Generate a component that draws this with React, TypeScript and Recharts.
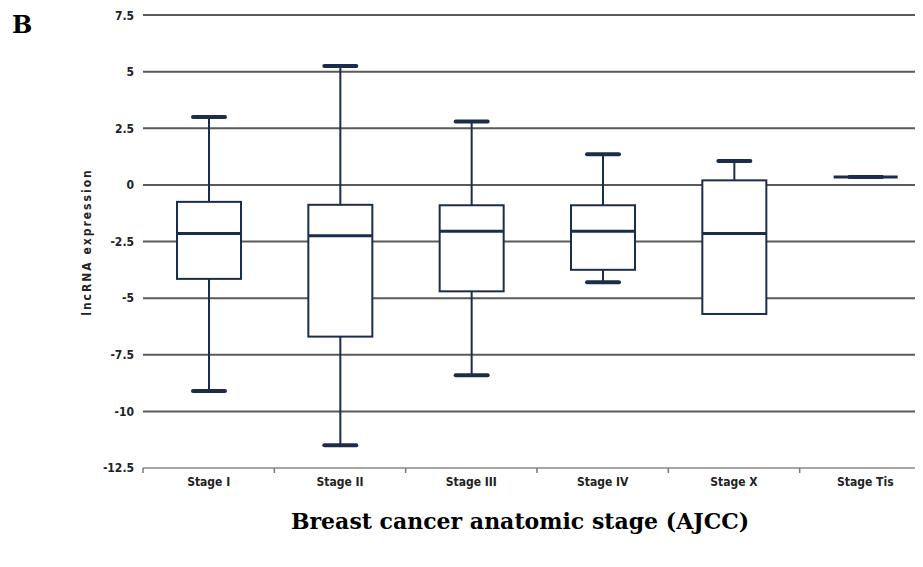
import { ComposedChart, Bar, XAxis, YAxis, CartesianGrid } from "recharts"

const stages = ["Stage I", "Stage II", "Stage III", "Stage IV", "Stage X", "Stage Tis"]
const whiskerLow = [-9.1, -11.5, -8.4, -4.3, -5.7, 0.35]
const quartile1 = [-4.15, -6.7, -4.7, -3.75, -5.7, 0.35]
const medians = [-2.15, -2.25, -2.05, -2.05, -2.15, 0.35]
const quartile3 = [-0.75, -0.88, -0.9, -0.9, 0.2, 0.35]
const whiskerHigh = [3.0, 5.25, 2.8, 1.35, 1.05, 0.35]
const yTicks = [-12.5, -10, -7.5, -5, -2.5, 0, 2.5, 5, 7.5]

const data = stages.map((stage, i) => ({
  stage,
  low: whiskerLow[i],
  q1: quartile1[i],
  median: medians[i],
  q3: quartile3[i],
  high: whiskerHigh[i],
}))

const NAVY = "#1b2d4a"
const tickFont = "'DejaVu Sans Condensed', 'DejaVu Sans', sans-serif"

function BoxShape(props: any) {
  const { x, y, width, height, payload } = props
  const top = Math.min(y, y + height)
  const bottom = Math.max(y, y + height)
  const span = payload.high - payload.low
  // linear map inside the bar that runs from low (bottom) to high (top)
  const py = (v: number) => (span === 0 ? top : top + ((payload.high - v) / span) * (bottom - top))
  const cx = x + width / 2
  const capW = width / 2
  const yq3 = py(payload.q3)
  const yq1 = py(payload.q1)
  const ymed = py(payload.median)
  const yhi = py(payload.high)
  const ylo = py(payload.low)
  const showLow = payload.low !== payload.q1 || span === 0
  return (
    <g>
      <line x1={cx} x2={cx} y1={yhi} y2={yq3} stroke={NAVY} strokeWidth={2} />
      {showLow && <line x1={cx} x2={cx} y1={yq1} y2={ylo} stroke={NAVY} strokeWidth={2} />}
      <rect x={x} y={yq3} width={width} height={Math.max(0, yq1 - yq3)} fill="#fff" stroke={NAVY} strokeWidth={2} />
      <line x1={x} x2={x + width} y1={ymed} y2={ymed} stroke={NAVY} strokeWidth={3} />
      <line x1={cx - capW / 2} x2={cx + capW / 2} y1={yhi} y2={yhi} stroke={NAVY} strokeWidth={4} strokeLinecap="round" />
      {showLow && (
        <line x1={cx - capW / 2} x2={cx + capW / 2} y1={ylo} y2={ylo} stroke={NAVY} strokeWidth={4} strokeLinecap="round" />
      )}
    </g>
  )
}

function StageTick(props: any) {
  const { x, y, payload } = props
  const half = payload && payload.offset ? payload.offset : 65.6
  return (
    <g>
      <line x1={x - half} x2={x - half} y1={y} y2={y + 5} stroke="#777" strokeWidth={1.5} />
      <text x={x} y={y + 18} textAnchor="middle" fontFamily={tickFont} fontWeight="bold" fontSize={12} fill="#222">
        {payload.value}
      </text>
    </g>
  )
}

export default function App() {
  return (
    <div style={{ position: "relative", width: 915, height: 559, overflow: "hidden" }}>
      <ComposedChart width={923} height={559} data={data} margin={{ top: 7, right: 0, bottom: 69, left: 0 }}>
        <CartesianGrid
          vertical={false}
          horizontalValues={[-10, -7.5, -5, -2.5, 0, 2.5, 5, 7.5]}
          stroke="#5a5a5a"
          strokeWidth={2}
        />
        <XAxis
          dataKey="stage"
          height={30}
          tickLine={false}
          tickSize={0}
          tickMargin={0}
          axisLine={{ stroke: "#888", strokeWidth: 1.5 }}
          tick={<StageTick />}
          interval={0}
        />
        <YAxis
          type="number"
          domain={[-12.5, 7.5]}
          ticks={yTicks}
          width={135}
          axisLine={false}
          tickLine={false}
          tickSize={0}
          tickMargin={9}
          tick={{ fontFamily: tickFont, fontWeight: "bold", fontSize: 12, fill: "#222" }}
        />
        <Bar
          dataKey={(d: any) => [d.low, d.high]}
          barSize={64}
          shape={BoxShape}
          isAnimationActive={false}
        />
      </ComposedChart>
      <div
        style={{
          position: "absolute",
          left: 4,
          top: 5,
          fontFamily: "'DejaVu Serif', serif",
          fontWeight: "bold",
          fontSize: 24,
          lineHeight: 1,
        }}
      >
        B
      </div>
      <div
        style={{
          position: "absolute",
          left: 79,
          top: 234,
          transform: "translate(-50%, -50%) rotate(-90deg)",
          whiteSpace: "nowrap",
          fontFamily: tickFont,
          fontWeight: "bold",
          fontSize: 12,
          letterSpacing: 2,
          color: "#222",
          lineHeight: 1,
        }}
      >
        lncRNA expression
      </div>
      <div
        style={{
          position: "absolute",
          left: 0,
          width: 1024,
          top: 502,
          textAlign: "center",
          fontFamily: "'DejaVu Serif', serif",
          fontWeight: "bold",
          fontSize: 22,
          lineHeight: 1,
        }}
      >
        Breast cancer anatomic stage (AJCC)
      </div>
    </div>
  )
}
